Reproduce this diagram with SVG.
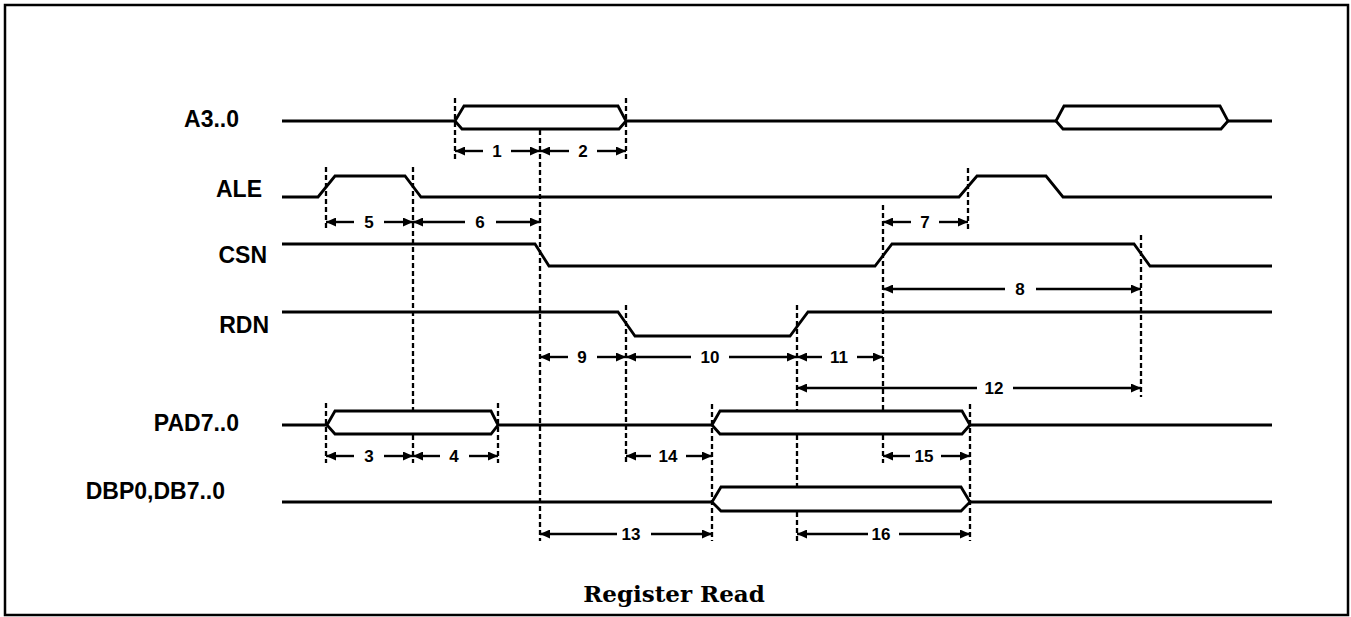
<svg xmlns="http://www.w3.org/2000/svg" width="1351" height="617" viewBox="0 0 1351 617">
<defs>
<marker id="ah" viewBox="0 0 10 9" refX="10" refY="4.5" markerWidth="10" markerHeight="9" markerUnits="userSpaceOnUse" orient="auto-start-reverse">
<path d="M0,0 L10,4.5 L0,9 z" fill="#000"/>
</marker>
<style>
.sig{fill:none;stroke:#000;stroke-width:2.8;stroke-linejoin:miter}
.bus{fill:#fff;stroke:#000;stroke-width:2.8}
.dash{fill:none;stroke:#000;stroke-width:2.3;stroke-dasharray:5 3}
.dl{stroke:#000;stroke-width:2.4;fill:none;marker-end:url(#ah)}
.dr{stroke:#000;stroke-width:2.4;fill:none;marker-start:url(#ah)}
.lbl{font-family:"Liberation Sans",Arial,sans-serif;font-weight:bold;font-size:23px;fill:#000;text-anchor:end}
.num{font-family:"Liberation Sans",Arial,sans-serif;font-weight:bold;font-size:17px;fill:#000;text-anchor:middle}
.title{font-family:"DejaVu Serif","Liberation Serif",serif;font-weight:bold;font-size:23px;fill:#000;text-anchor:middle}
</style>
</defs>
<rect x="5" y="5" width="1343" height="610" fill="#fff" stroke="#000" stroke-width="2.5"/>

<g id="sig-A3">
<text class="lbl" x="239" y="127">A3..0</text>
<path class="sig" d="M282,121 L455,121 M626,121 L1056,121 M1228,121 L1272,121"/>
<polygon class="bus" points="455,121 464,106 618,106 626,121 619,129 462,129"/>
<polygon class="bus" points="1056,121 1064,106 1220,106 1228,121 1221,129 1063,129"/>
</g>
<g id="sig-ALE">
<text class="lbl" x="262" y="197">ALE</text>
<path class="sig" d="M282,197 L318,197 L335,176 L405,176 L421,197 L959,197 L977,176 L1046,176 L1063,197 L1272,197"/>
</g>
<g id="sig-CSN">
<text class="lbl" x="267" y="263">CSN</text>
<path class="sig" d="M282,244 L535,244 L549,266 L875,266 L892,244 L1134,244 L1150,266 L1272,266"/>
</g>
<g id="sig-RDN">
<text class="lbl" x="269" y="333">RDN</text>
<path class="sig" d="M282,312 L618,312 L635,336 L790,336 L808,312 L1272,312"/>
</g>
<g id="sig-PAD">
<text class="lbl" x="239" y="431">PAD7..0</text>
<path class="sig" d="M282,425 L327,425 M498,425 L712,425 M970,425 L1272,425"/>
<polygon class="bus" points="327,425 335,411 491,411 498,425 491,434 335,434"/>
<polygon class="bus" points="712,425 720,411 962,411 970,425 962,434 720,434"/>
</g>
<g id="sig-DB">
<text class="lbl" x="225" y="499">DBP0,DB7..0</text>
<path class="sig" d="M282,502 L712,502 M970,502 L1272,502"/>
<polygon class="bus" points="712,502 721,487 961,487 970,502 961,511 721,511"/>
</g>

<g id="connectors">
<path class="dash" d="M326,167 V228 M326,403 V463 M413,167 V410 M413,435 V463 M455,98 V160 M540,130 V541 M626,98 V160 M626,305 V463 M498,403 V463 M712,404 V541 M797,305 V410 M797,435 V486 M797,512 V541 M883,205 V410 M883,435 V463 M968,168 V229 M970,404 V541 M1141,235 V397"/>
<path class="dr" d="M455,151 H483"/><path class="dl" d="M511,151 H540"/><text class="num" x="497" y="157">1</text>
<path class="dr" d="M540,151 H569"/><path class="dl" d="M597,151 H626"/><text class="num" x="583" y="157">2</text>
<path class="dr" d="M326,222 H354"/><path class="dl" d="M384,222 H413"/><text class="num" x="369" y="228">5</text>
<path class="dr" d="M413,222 H465"/><path class="dl" d="M496,222 H540"/><text class="num" x="480" y="228">6</text>
<path class="dr" d="M883,222 H911"/><path class="dl" d="M939,222 H968"/><text class="num" x="925" y="228">7</text>
<path class="dr" d="M883,289 H1005"/><path class="dl" d="M1036,289 H1141"/><text class="num" x="1020" y="295">8</text>
<path class="dr" d="M540,357 H568"/><path class="dl" d="M597,357 H626"/><text class="num" x="582" y="363">9</text>
<path class="dr" d="M626,357 H691"/><path class="dl" d="M729,357 H797"/><text class="num" x="710" y="363">10</text>
<path class="dr" d="M797,357 H822"/><path class="dl" d="M857,357 H883"/><text class="num" x="839" y="363">11</text>
<path class="dr" d="M797,388 H977"/><path class="dl" d="M1013,388 H1141"/><text class="num" x="994" y="394">12</text>
<path class="dr" d="M326,456 H354"/><path class="dl" d="M384,456 H413"/><text class="num" x="369" y="462">3</text>
<path class="dr" d="M413,456 H440"/><path class="dl" d="M469,456 H498"/><text class="num" x="454" y="462">4</text>
<path class="dr" d="M626,456 H651"/><path class="dl" d="M686,456 H712"/><text class="num" x="668" y="462">14</text>
<path class="dr" d="M883,456 H910"/><path class="dl" d="M941,456 H970"/><text class="num" x="924" y="462">15</text>
<path class="dr" d="M540,534 H617"/><path class="dl" d="M651,534 H712"/><text class="num" x="631" y="540">13</text>
<path class="dr" d="M797,534 H868"/><path class="dl" d="M899,534 H970"/><text class="num" x="881" y="540">16</text>
</g>

<text class="title" x="674" y="602">Register Read</text>
</svg>
